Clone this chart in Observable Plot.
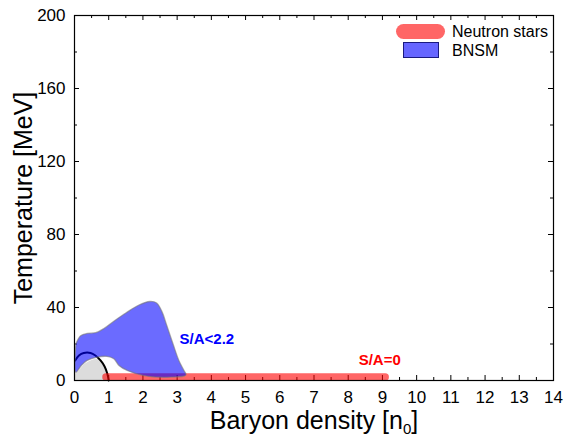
<!DOCTYPE html>
<html><head><meta charset="utf-8">
<script src="https://cdn.jsdelivr.net/npm/d3@7"></script>
<script src="https://cdn.jsdelivr.net/npm/@observablehq/plot@0.6"></script>
<style>
body{margin:0;background:#fff;}
#wrap{position:relative;width:565px;height:436px;font-family:"Liberation Sans",Arial,sans-serif;}
.sw{position:absolute;box-sizing:border-box;}
.lt{position:absolute;font-size:16px;line-height:16px;color:#000;white-space:nowrap;}
</style></head><body><div id="wrap"></div>
<script>
// ---- data ----
const xMajor = [0,1,2,3,4,5,6,7,8,9,10,11,12,13,14];
const xMinor = [0.5,1.5,2.5,3.5,4.5,5.5,6.5,7.5,8.5,9.5,10.5,11.5,12.5,13.5];
const yMajor = [0,40,80,120,160,200];
const yMinor = [20,60,100,140,180];

// BNSM region (S/A<2.2): outline, top edge left->right then bottom edge right->left
const bnsmN = [0.04,0.18,0.37,0.62,0.86,1.15,1.5,1.9,2.2,2.4,2.55,2.7,2.88,3.05,3.2,3.26,
               3.2,3.0,2.5,2.03,1.54,1.3,1.15,0.95,0.66,0.37,0.2,0.04,0.04];
const bnsmT = [20,24.5,25.8,26.2,28.5,32.5,37,41.5,43.3,42.5,38,30,20,11,5.5,3.2,
               2.4,2.0,1.8,2.7,5.5,8.2,11.9,13.2,12.8,11,8.2,4.5,20];

// grey dome
const domeN = [0.02,0.02,0.08,0.27,0.47,0.66,0.81,0.91,1.0];
const domeT = [0,4,4.5,8.8,11,11.9,11,6.4,0];

// black curve
const curveN = [0.02,0.13,0.27,0.47,0.61,0.76,0.88,0.96,1.0];
const curveT = [11,13.7,15.1,15.1,13.7,11,7.7,3.7,0];

// neutron stars band (S/A=0)
const nsN = [0.92,9.08];
const nsT = [1.9,1.9];

const labels = [
  {n:3.87, t:22.5, text:"S/A<2.2", color:"#0000ff"},
  {n:8.92, t:11.2, text:"S/A=0", color:"#ff0000"}
];
const legendItems = ["Neutron stars","BNSM"];
const xTitle = "Baryon density [n0]";
const yTitle = "Temperature [MeV]";

// ---- chart ----
const W = 565, H = 436, mL = 74, mR = 12, mT = 15, mB = 56;
const pw = W - mL - mR, ph = H - mT - mB;
const zip = (a,b) => a.map((v,i)=>({n:v,t:b[i]}));

const chart = Plot.plot({
  width: W, height: H,
  marginLeft: mL, marginRight: mR, marginTop: mT, marginBottom: mB,
  style: {fontFamily: '"Liberation Sans", Arial, sans-serif', fontSize: "17px", color: "#000", background: "#fff"},
  x: {domain: [0,14], ticks: xMajor, tickSize: 0, tickPadding: 10, label: null},
  y: {domain: [0,200], ticks: yMajor, tickSize: 0, tickPadding: 9, label: null},
  marks: [
    Plot.tickX(xMajor, {x: d=>d, insetTop: ph-5, stroke: "#000"}),
    Plot.tickX(xMajor, {x: d=>d, insetBottom: ph-5, stroke: "#000"}),
    Plot.tickX(xMinor, {x: d=>d, insetTop: ph-3, stroke: "#000"}),
    Plot.tickX(xMinor, {x: d=>d, insetBottom: ph-3, stroke: "#000"}),
    Plot.tickY(yMajor, {y: d=>d, insetRight: pw-5, stroke: "#000"}),
    Plot.tickY(yMajor, {y: d=>d, insetLeft: pw-5, stroke: "#000"}),
    Plot.tickY(yMinor, {y: d=>d, insetRight: pw-3, stroke: "#000"}),
    Plot.tickY(yMinor, {y: d=>d, insetLeft: pw-3, stroke: "#000"}),
    Plot.line(zip(domeN, domeT), {x:"n", y:"t", fill:"#dcdcdc", stroke:"none", curve:"catmull-rom"}),
    Plot.line(zip(curveN, curveT), {x:"n", y:"t", stroke:"#000", strokeWidth:2, curve:"catmull-rom"}),
    Plot.line(zip(nsN, nsT), {x:"n", y:"t", stroke:"rgba(255,0,0,0.6)", strokeWidth:7.5, strokeLinecap:"round"}),
    Plot.line(zip(bnsmN, bnsmT), {x:"n", y:"t", fill:"rgba(0,0,255,0.58)", stroke:"rgba(120,120,120,0.6)", strokeWidth:1.3, curve:"catmull-rom"}),
    Plot.text(labels, {x:"n", y:"t", text:"text", fill:"color", fontWeight:"bold", fontSize:15}),
    Plot.frame({stroke:"#000", strokeWidth:1.2}),
    Plot.text([xTitle], {frameAnchor:"bottom", textAnchor:"middle", lineAnchor:"middle", dy:40, fontSize:25, fill:"#000"}),
    Plot.text([yTitle], {frameAnchor:"left", textAnchor:"middle", lineAnchor:"middle", dx:-51, rotate:-90, fontSize:25, fill:"#000"})
  ]
});

const wrap = document.getElementById("wrap");
wrap.appendChild(chart);

// subscript on x title
d3.select(chart).selectAll("text").filter(function(){return this.textContent === xTitle;})
  .each(function(){
    const t = d3.select(this);
    t.text(null);
    t.append("tspan").text("Baryon density [n");
    t.append("tspan").attr("dy", 5).attr("font-size", 15).text("0");
    t.append("tspan").attr("dy", -5).text("]");
  });

// legend (inside plot, top-right)
const sw1 = document.createElement("div");
sw1.className = "sw";
Object.assign(sw1.style, {left:"396px", top:"24px", width:"49px", height:"15px", borderRadius:"7.5px", background:"rgba(255,0,0,0.6)"});
const sw2 = document.createElement("div");
sw2.className = "sw";
Object.assign(sw2.style, {left:"403px", top:"42px", width:"36px", height:"16px", background:"rgba(0,0,255,0.6)", border:"1px solid #1a1a80"});
wrap.appendChild(sw1); wrap.appendChild(sw2);
legendItems.forEach((s,i)=>{
  const d = document.createElement("div");
  d.className = "lt";
  d.textContent = s;
  d.style.left = "452px";
  d.style.top = (i===0 ? 24 : 43) + "px";
  wrap.appendChild(d);
});
</script></body></html>
